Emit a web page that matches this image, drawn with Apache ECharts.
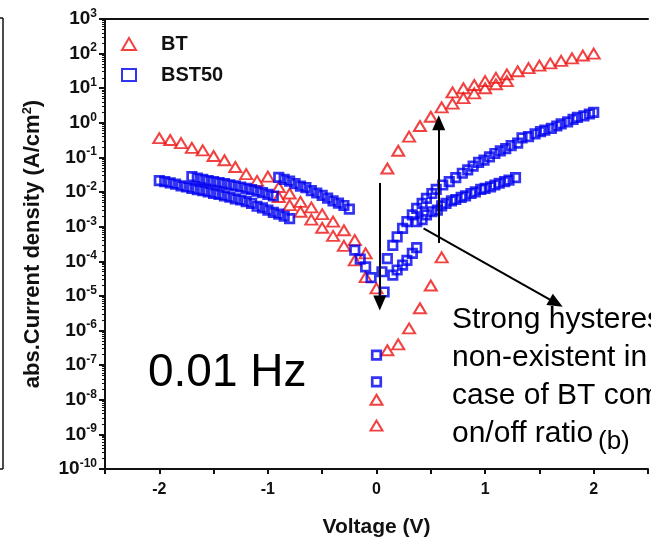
<!DOCTYPE html>
<html>
<head>
<meta charset="utf-8">
<script src="https://cdn.jsdelivr.net/npm/echarts@6/dist/echarts.min.js"></script>
<style>
  html, body { margin: 0; padding: 0; background: #fff; }
  #chart { width: 651px; height: 544px; }
</style>
</head>
<body>
<div id="chart"></div>
<script>
// tick labels
var xTicks = [-2, -1, 0, 1, 2]
var yDecades = [-10, -9, -8, -7, -6, -5, -4, -3, -2, -1, 0, 1, 2, 3]

// BT, [voltage (V), |J| (A/cm2)]
var btUp = [[0, 1.8e-9], [0.1, 2.7e-7], [0.2, 4.0e-7], [0.3, 1.15e-6], [0.4, 4.4e-6], [0.5, 2.0e-5], [0.6, 1.3e-4],
  [0.7, 7.6], [0.8, 10], [0.9, 12.4], [1.0, 16], [1.1, 20], [1.2, 25], [1.3, 31], [1.4, 38], [1.5, 45],
  [1.6, 52], [1.7, 62], [1.8, 73], [1.9, 88], [2.0, 100]]
var btDown = [[1.2, 16], [1.1, 13], [1.0, 10], [0.9, 7.1], [0.8, 5.2], [0.7, 3.6], [0.6, 2.8], [0.5, 1.5],
  [0.4, 0.81], [0.3, 0.4], [0.2, 0.156], [0.1, 0.048], [0, 1.0e-8]]
var btNegOut = [[-0.1, 3.5e-5], [-0.2, 1.07e-4], [-0.3, 2.8e-4], [-0.4, 5.4e-4], [-0.5, 9.3e-4], [-0.6, 1.6e-3],
  [-0.7, 2.7e-3], [-0.8, 4.2e-3], [-0.9, 7.2e-3], [-1.0, 0.028], [-1.1, 0.021], [-1.2, 0.033], [-1.3, 0.053],
  [-1.4, 0.083], [-1.5, 0.11], [-1.6, 0.16], [-1.7, 0.19], [-1.8, 0.26], [-1.9, 0.32], [-2.0, 0.36]]
var btNegBack = [[-0.9, 0.014], [-0.8, 9.1e-3], [-0.7, 5.2e-3], [-0.6, 3.6e-3], [-0.5, 2.3e-3], [-0.4, 1.4e-3],
  [-0.3, 7.9e-4], [-0.2, 4.1e-4], [-0.1, 1.7e-4], [0, 1.66e-5]]

// BST50
var bstNeg1 = [[-2.0, 0.0215], [-1.95, 0.0201], [-1.9, 0.0185], [-1.85, 0.017], [-1.8, 0.0151], [-1.75, 0.014],
  [-1.7, 0.0128], [-1.65, 0.0118], [-1.6, 0.011], [-1.55, 0.0101], [-1.5, 0.0092], [-1.45, 0.0086], [-1.4, 0.0078],
  [-1.35, 0.0071], [-1.3, 0.0064], [-1.25, 0.0059], [-1.2, 0.0053], [-1.15, 0.0047], [-1.1, 0.0039],
  [-1.05, 0.0035], [-1.0, 0.003], [-0.95, 0.0026], [-0.9, 0.0023], [-0.85, 0.002], [-0.8, 0.0017]]
var bstNeg2 = [[-1.7, 0.0281], [-1.65, 0.0254], [-1.6, 0.0234], [-1.55, 0.0215], [-1.5, 0.0201], [-1.45, 0.0188],
  [-1.4, 0.0176], [-1.35, 0.0163], [-1.3, 0.0151], [-1.25, 0.014], [-1.2, 0.0128], [-1.15, 0.0117],
  [-1.1, 0.0107], [-1.05, 0.0097], [-1.0, 0.0086], [-0.95, 0.0077]]
var bstNeg3 = [[-0.9, 0.0266], [-0.85, 0.0234], [-0.8, 0.0208], [-0.75, 0.0175], [-0.7, 0.0149], [-0.65, 0.0135],
  [-0.6, 0.011], [-0.55, 0.0094], [-0.5, 0.008], [-0.45, 0.0067], [-0.4, 0.0056], [-0.35, 0.0048], [-0.3, 0.0041],
  [-0.25, 0.0032], [-0.2, 2.1e-4], [-0.15, 1.15e-4], [-0.1, 6.9e-5], [-0.05, 3.4e-5], [0.05, 5.0e-5]]
var bstZero = [[0, 1.95e-7], [0, 3.3e-8]]
var bstPosLow = [[0.07, 1.3e-5], [0.15, 4.0e-5], [0.19, 5.6e-5], [0.24, 7.8e-5], [0.28, 1.07e-4], [0.33, 1.7e-4],
  [0.37, 2.5e-4]]
var bstPosMid = [[0.37, 1.39e-3], [0.42, 1.6e-3], [0.46, 2.2e-3], [0.51, 2.7e-3], [0.56, 3.0e-3], [0.6, 4.0e-3],
  [0.64, 4.7e-3], [0.69, 5.6e-3], [0.73, 6.1e-3], [0.78, 7.0e-3], [0.82, 7.8e-3], [0.87, 9.1e-3], [0.91, 0.0102],
  [0.96, 0.012], [1.0, 0.0128], [1.05, 0.0142], [1.09, 0.016], [1.13, 0.018], [1.18, 0.02], [1.22, 0.022],
  [1.28, 0.026]]
var bstPosHigh = [[0.1, 1.2e-4], [0.15, 2.9e-4], [0.19, 5.1e-4], [0.24, 8.9e-4], [0.28, 1.4e-3], [0.33, 2.2e-3],
  [0.37, 3.4e-3], [0.42, 4.7e-3], [0.46, 6.6e-3], [0.51, 9.1e-3], [0.55, 0.012], [0.61, 0.016], [0.67, 0.02],
  [0.73, 0.026], [0.79, 0.035], [0.84, 0.044], [0.89, 0.056], [0.94, 0.072], [0.99, 0.084], [1.04, 0.104],
  [1.09, 0.13], [1.14, 0.156], [1.19, 0.18], [1.24, 0.22], [1.3, 0.26], [1.34, 0.37], [1.4, 0.4], [1.46, 0.48],
  [1.51, 0.56], [1.55, 0.62], [1.61, 0.69], [1.66, 0.81], [1.7, 0.93], [1.76, 1.07], [1.81, 1.26], [1.85, 1.44],
  [1.91, 1.6], [1.96, 1.8], [2.0, 2.0]]

// annotation arrows, [[x1, y1], [x2, y2]] in data units
var arrows = [
  [[0.03, 0.0182], [0.03, 6.2e-6]],
  [[0.573, 3.4e-4], [0.573, 1.0]],
  [[0.433, 8.9e-4], [1.654, 6.2e-6]]
]

var font = 'Liberation Sans, Arial, sans-serif'
var red = '#ee1111'
var blue = '#0000f0'

var yMinor = []
yDecades.slice(0, -1).forEach(function (e) {
  for (var m = 2; m <= 9; m++) yMinor.push(Number(m + 'e' + e))
})

var chart = echarts.init(document.getElementById('chart'))
chart.setOption({
  animation: false,
  textStyle: { fontFamily: font },
  grid: { left: 105, right: -12, top: 19, bottom: 75 },
  legend: {
    data: ['BT', 'BST50'],
    orient: 'vertical',
    left: 116,
    top: 29,
    itemWidth: 14,
    itemHeight: 12,
    itemGap: 11,
    textStyle: { fontSize: 20, fontWeight: 'bold', color: '#111', fontFamily: font, padding: [0, 0, 0, 20] }
  },
  xAxis: [{
    type: 'value',
    min: -2.5,
    max: 2.5,
    interval: 0.5,
    name: 'Voltage (V)',
    nameLocation: 'middle',
    nameGap: 48,
    nameTextStyle: { fontSize: 21, fontWeight: 'bold', color: '#111', fontFamily: font },
    axisLine: { onZero: false, lineStyle: { color: '#111', width: 2 } },
    axisTick: { inside: false, length: 5, lineStyle: { color: '#111', width: 2 } },
    axisLabel: {
      margin: 13,
      fontSize: 16,
      fontWeight: 'bold',
      color: '#111',
      formatter: function (v) {
        return xTicks.indexOf(v) >= 0 ? String(v) : ''
      }
    },
    splitLine: { show: false }
  }, {
    type: 'value',
    position: 'top',
    min: -2.5,
    max: 2.5,
    axisLine: { onZero: false, lineStyle: { color: '#111', width: 2 } },
    axisTick: { show: false },
    axisLabel: { show: false },
    splitLine: { show: false }
  }],
  yAxis: [{
    type: 'log',
    logBase: 10,
    min: 1e-10,
    max: 1e3,
    name: 'abs.Current density (A/cm{s|2})',
    nameLocation: 'middle',
    nameGap: 61,
    nameTextStyle: {
      fontSize: 22, fontWeight: 'bold', color: '#111', fontFamily: font,
      rich: { s: { fontSize: 13, fontWeight: 'bold', color: '#111', padding: [0, 0, 10, 0] } }
    },
    axisLine: { onZero: false, lineStyle: { color: '#111', width: 2 } },
    axisTick: {
      length: 6,
      customValues: yDecades.map(function (e) { return Number('1e' + e) }),
      lineStyle: { color: '#111', width: 2 }
    },
    axisLabel: {
      margin: 8,
      customValues: yDecades.map(function (e) { return Number('1e' + e) }),
      formatter: function (v) {
        return '{b|10}{e|' + Math.round(Math.log10(v)) + '}'
      },
      rich: {
        b: { fontSize: 19, fontWeight: 'bold', color: '#111', fontFamily: font },
        e: { fontSize: 12, fontWeight: 'bold', color: '#111', fontFamily: font, padding: [0, 0, 11, 0] }
      }
    },
    splitLine: { show: false }
  }, {
    type: 'log',
    logBase: 10,
    min: 1e-10,
    max: 1e3,
    position: 'left',
    axisLine: { show: false, onZero: false },
    axisTick: { length: 3, customValues: yMinor, lineStyle: { color: '#111', width: 1 } },
    axisLabel: { show: false },
    splitLine: { show: false }
  }],
  series: [{
    name: 'BT',
    type: 'scatter',
    symbol: 'triangle',
    symbolSize: [12, 10],
    itemStyle: { color: 'rgba(0,0,0,0)', borderColor: red, borderWidth: 2 },
    data: btUp.concat(btDown, btNegOut, btNegBack)
  }, {
    name: 'BST50',
    type: 'scatter',
    symbol: 'rect',
    symbolSize: 8.5,
    itemStyle: { color: 'rgba(0,0,0,0)', borderColor: blue, borderWidth: 2.7 },
    data: bstNeg1.concat(bstNeg2, bstNeg3, bstZero, bstPosLow, bstPosMid, bstPosHigh)
  }, {
    name: 'arrows',
    type: 'line',
    data: [],
    z: 5,
    markLine: {
      silent: true,
      symbol: ['none', 'triangle'],
      symbolSize: [13, 15],
      label: { show: false },
      lineStyle: { color: '#000', width: 2, type: 'solid' },
      data: arrows.map(function (a) {
        return [{ coord: a[0] }, { coord: a[1] }]
      })
    }
  }],
  graphic: [
    { type: 'line', shape: { x1: 3, y1: 18, x2: 3, y2: 469 }, style: { stroke: '#111', lineWidth: 1.5 } },
    { type: 'line', shape: { x1: 0, y1: 18, x2: 3, y2: 18 }, style: { stroke: '#111', lineWidth: 1.5 } },
    { type: 'line', shape: { x1: 0, y1: 469, x2: 3, y2: 469 }, style: { stroke: '#111', lineWidth: 1.5 } },
    {
      type: 'text', x: 148, y: 373,
      style: { text: '0.01 Hz', fontSize: 46, fontFamily: font, fill: '#000', verticalAlign: 'middle' }
    },
    {
      type: 'text', x: 452, y: 301,
      style: {
        text: 'Strong hysteresis is\nnon-existent in the\ncase of BT compared\non/off ratio',
        fontSize: 30, lineHeight: 38, fontFamily: font, fill: '#000', verticalAlign: 'top'
      }
    },
    {
      type: 'text', x: 598, y: 442,
      style: { text: '(b)', fontSize: 26, fontFamily: font, fill: '#000', verticalAlign: 'middle' }
    }
  ]
})
</script>
</body>
</html>
